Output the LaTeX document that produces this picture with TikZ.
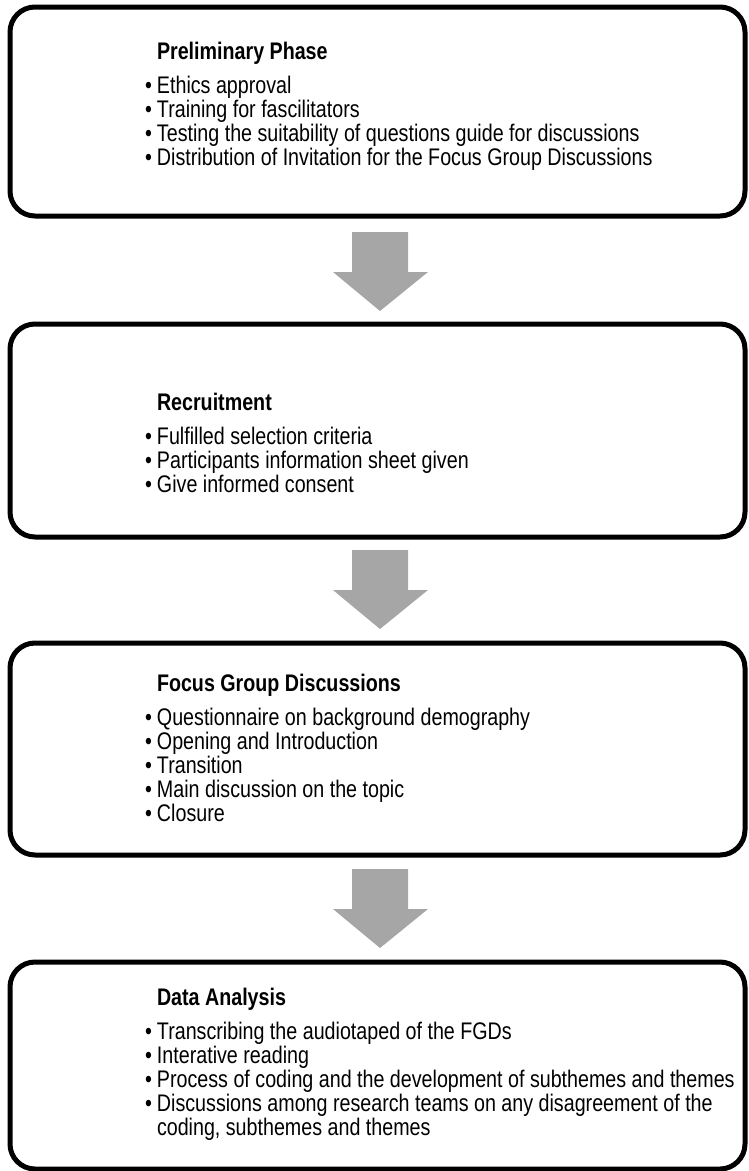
\documentclass[tikz,border=0pt]{standalone}
\usepackage{fontspec}
\setmainfont{Liberation Sans}[FakeStretch=0.82]
\definecolor{arrowgray}{HTML}{A6A6A6}
\newcommand\phasetext[2]{\parbox[t]{700pt}{\raggedright\fontsize{24}{24}\selectfont\hspace*{12pt}\textbf{#1}\par\vspace{10pt}#2}}
\newcommand\itm[1]{\hangindent=12pt\hangafter=1\noindent\makebox[12pt][l]{\textbullet}#1\par}
\newcommand\downarr[2]{\fill[flowarrow] (#1-28,#2) -- (#1+28,#2) -- (#1+28,#2+40) -- (#1+48,#2+40) -- (#1,#2+79) -- (#1-47,#2+40) -- (#1-28,#2+40) -- cycle;}
\begin{document}
\begin{tikzpicture}[x=1pt,y=-1pt,
  phasebox/.style={draw=black, line width=5pt, rounded corners=25pt, minimum width=735pt, anchor=north west, outer sep=0pt, inner sep=0pt},
  phaselabel/.style={anchor=base west, inner sep=0pt, outer sep=0pt},
  flowarrow/.style={fill=arrowgray}]
\useasboundingbox (0,0) rectangle (749,1171);
\node[phasebox, minimum height=209pt] (b1) at (10,7) {};
\node[phasebox, minimum height=213pt] (b2) at (10,324) {};
\node[phasebox, minimum height=212pt] (b3) at (10,643) {};
\node[phasebox, minimum height=207pt] (b4) at (10,962) {};
\downarr{380}{232}
\downarr{380}{550}
\downarr{380}{869}
\node[phaselabel] (t1) at (145,59) {\phasetext{Preliminary Phase}{%
\itm{Ethics approval}
\itm{Training for fascilitators}
\itm{Testing the suitability of questions guide for discussions}
\itm{Distribution of Invitation for the Focus Group Discussions}}};
\node[phaselabel] (t2) at (145,410) {\phasetext{Recruitment}{%
\itm{Fulfilled selection criteria}
\itm{Participants information sheet given}
\itm{Give informed consent}}};
\node[phaselabel] (t3) at (145,691) {\phasetext{Focus Group Discussions}{%
\itm{Questionnaire on background demography}
\itm{Opening and Introduction}
\itm{Transition}
\itm{Main discussion on the topic}
\itm{Closure}}};
\node[phaselabel] (t4) at (145,1005) {\phasetext{Data Analysis}{%
\itm{Transcribing the audiotaped of the FGDs}
\itm{Interative reading}
\itm{Process of coding and the development of subthemes and themes}
\itm{Discussions among research teams on any disagreement of the\newline coding, subthemes and themes}}};
\end{tikzpicture}
\end{document}
